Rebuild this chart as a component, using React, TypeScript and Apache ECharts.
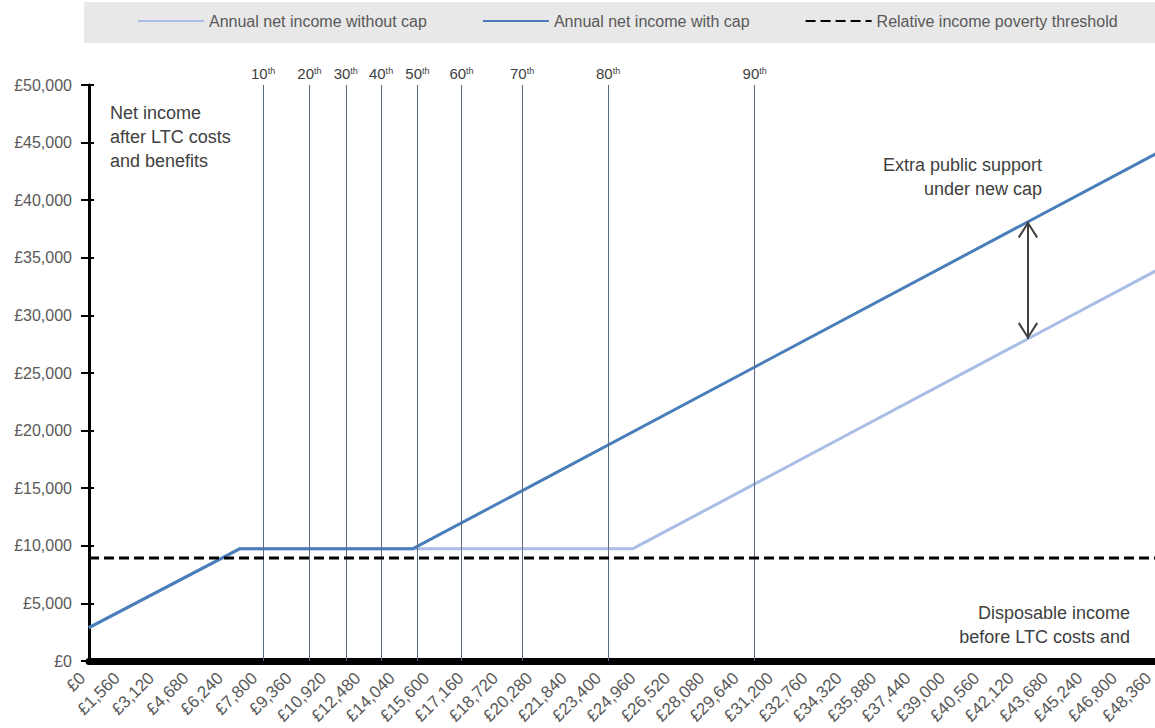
import React, { useEffect, useRef } from "react";
import * as echarts from "echarts";

// ---- Data ----
const X_MAX = 48500;
const X_INTERVAL = 1560;
const Y_MAX = 50000;
const Y_INTERVAL = 5000;

const WITHOUT_CAP_X = [0, 6850, 24680, 48500];
const WITHOUT_CAP_Y = [2900, 9750, 9750, 33970];

const WITH_CAP_X = [0, 6850, 14700, 48500];
const WITH_CAP_Y = [2900, 9750, 9750, 44130];

const POVERTY_THRESHOLD = 8950;

const PERCENTILE_NAMES = ["10", "20", "30", "40", "50", "60", "70", "80", "90"];
const PERCENTILE_VALUES = [7900, 10000, 11650, 13250, 14900, 16900, 19650, 23550, 30200];

const ARROW_X = 42600;

const SERIES_NAMES = [
  "Annual net income without cap",
  "Annual net income with cap",
  "Relative income poverty threshold",
];

const FONT = "'Liberation Sans', Arial, sans-serif";

function interp(xs: number[], ys: number[], x: number) {
  for (let i = 0; i < xs.length - 1; i++) {
    if (x >= xs[i] && x <= xs[i + 1]) {
      const t = (x - xs[i]) / (xs[i + 1] - xs[i]);
      return ys[i] + t * (ys[i + 1] - ys[i]);
    }
  }
  return ys[ys.length - 1];
}

const gbp = (v: number) => "£" + Math.round(v).toLocaleString("en-GB");

export default function App() {
  const ref = useRef<HTMLDivElement>(null);

  useEffect(() => {
    if (!ref.current) return;
    const chart = echarts.init(ref.current, undefined, { renderer: "svg" });

    const withoutData = WITHOUT_CAP_X.map((x, i) => [x, WITHOUT_CAP_Y[i]]);
    const withData = WITH_CAP_X.map((x, i) => [x, WITH_CAP_Y[i]]);
    const povertyData = [
      [0, POVERTY_THRESHOLD],
      [X_MAX, POVERTY_THRESHOLD],
    ];

    const arrowTop = interp(WITH_CAP_X, WITH_CAP_Y, ARROW_X);
    const arrowBottom = interp(WITHOUT_CAP_X, WITHOUT_CAP_Y, ARROW_X);
    const chevron = "path://M0,0 L10,14 L8.4,15.4 L0,3.2 L-8.4,15.4 L-10,14 Z";

    chart.setOption({
      animation: false,
      backgroundColor: "#ffffff",
      textStyle: { fontFamily: FONT },
      grid: { left: 89, right: 17, top: 85, bottom: 67, containLabel: false },
      legend: {
        data: SERIES_NAMES,
        left: 132,
        top: 8,
        itemWidth: 66,
        itemHeight: 14,
        itemGap: 55,
        itemStyle: { color: "rgba(0,0,0,0)", borderColor: "rgba(0,0,0,0)", borderWidth: 0 },
        textStyle: { fontSize: 16, color: "#595959", fontFamily: FONT },
      },
      graphic: [
        {
          type: "rect",
          z: -10,
          silent: true,
          shape: { x: 84, y: 2, width: 1100, height: 41 },
          style: { fill: "#e8e8e8" },
        },
        {
          type: "text",
          x: 110,
          y: 101,
          style: {
            text: "Net income\nafter LTC costs\nand benefits",
            fontSize: 18,
            fontFamily: FONT,
            fill: "#404040",
            lineHeight: 24,
          },
        },
        {
          type: "text",
          x: 1042,
          y: 153,
          style: {
            text: "Extra public support\nunder new cap",
            fontSize: 18,
            fontFamily: FONT,
            fill: "#404040",
            lineHeight: 24,
            align: "right",
          },
        },
        {
          type: "text",
          x: 1130,
          y: 601,
          style: {
            text: "Disposable income\nbefore LTC costs and",
            fontSize: 18,
            fontFamily: FONT,
            fill: "#404040",
            lineHeight: 24,
            align: "right",
          },
        },
      ],
      xAxis: [
        {
          type: "value",
          min: 0,
          max: X_MAX,
          interval: X_INTERVAL,
          axisLine: { show: true, lineStyle: { color: "#000", width: 7 } },
          axisTick: { show: false },
          splitLine: { show: false },
          axisLabel: {
            rotate: 45,
            margin: 8,
            fontSize: 17,
            color: "#595959",
            fontFamily: FONT,
            padding: [0, 9, 0, 0],
            showMaxLabel: false,
            formatter: (v: number) => gbp(v),
          },
        },
        {
          type: "value",
          position: "top",
          min: 0,
          max: X_MAX,
          axisLine: { show: true, lineStyle: { color: "#000", width: 2 } },
          axisTick: { show: false },
          axisLabel: { show: false },
          splitLine: { show: false },
        },
      ],
      yAxis: [
        {
          type: "value",
          min: 0,
          max: Y_MAX,
          interval: Y_INTERVAL,
          axisLine: { show: true, lineStyle: { color: "#000", width: 3 } },
          axisTick: { show: true, inside: true, length: 5, lineStyle: { color: "#000", width: 2 } },
          splitLine: { show: false },
          axisLabel: {
            margin: 17,
            fontSize: 16,
            color: "#595959",
            fontFamily: FONT,
            formatter: (v: number) => gbp(v),
          },
        },
        {
          type: "value",
          position: "right",
          min: 0,
          max: Y_MAX,
          interval: Y_INTERVAL,
          axisLine: { show: true, lineStyle: { color: "#000", width: 2 } },
          axisTick: { show: true, inside: true, length: 8, lineStyle: { color: "#000", width: 2 } },
          axisLabel: { show: false },
          splitLine: { show: false },
        },
      ],
      series: [
        {
          name: "percentiles",
          type: "line",
          data: [],
          markLine: {
            silent: true,
            symbol: "none",
            lineStyle: { color: "#5b6b84", width: 1, type: "solid" },
            label: {
              show: true,
              position: "end",
              distance: 4,
              formatter: (p: any) => `{n|${p.name}}{s|th}`,
              rich: {
                n: { fontSize: 15, color: "#404040", fontFamily: FONT },
                s: { fontSize: 9, color: "#404040", fontFamily: FONT, padding: [0, 0, 6, 0] },
              },
            },
            data: PERCENTILE_VALUES.map((v, i) => ({ xAxis: v, name: PERCENTILE_NAMES[i] })),
          },
        },
        {
          name: SERIES_NAMES[0],
          type: "line",
          data: withoutData,
          symbol: "none",
          lineStyle: { color: "#a9bde6", width: 3 },
          itemStyle: { color: "#a9bde6" },
          z: 3,
        },
        {
          name: SERIES_NAMES[1],
          type: "line",
          data: withData,
          symbol: "none",
          lineStyle: { color: "#4a7ebb", width: 3 },
          itemStyle: { color: "#4a7ebb" },
          z: 4,
          markLine: {
            silent: true,
            symbol: [chevron, chevron],
            symbolSize: [20, 17],
            symbolOffset: [
              [0, 8],
              [0, 8],
            ],
            lineStyle: { color: "#404040", width: 2, type: "solid" },
            label: { show: false },
            data: [
              [
                { coord: [ARROW_X, arrowTop] },
                { coord: [ARROW_X, arrowBottom] },
              ],
            ],
          },
        },
        {
          name: SERIES_NAMES[2],
          type: "line",
          data: povertyData,
          symbol: "none",
          lineStyle: { color: "#000000", width: 3, type: [10, 5] },
          itemStyle: { color: "#000000" },
          z: 5,
        },
      ],
    });

    return () => chart.dispose();
  }, []);

  return (
    <div
      style={{
        position: "fixed",
        left: 0,
        top: 0,
        width: 1155,
        height: 728,
        overflow: "hidden",
        background: "#fff",
      }}
    >
      <div ref={ref} style={{ width: 1175, height: 728 }} />
    </div>
  );
}
